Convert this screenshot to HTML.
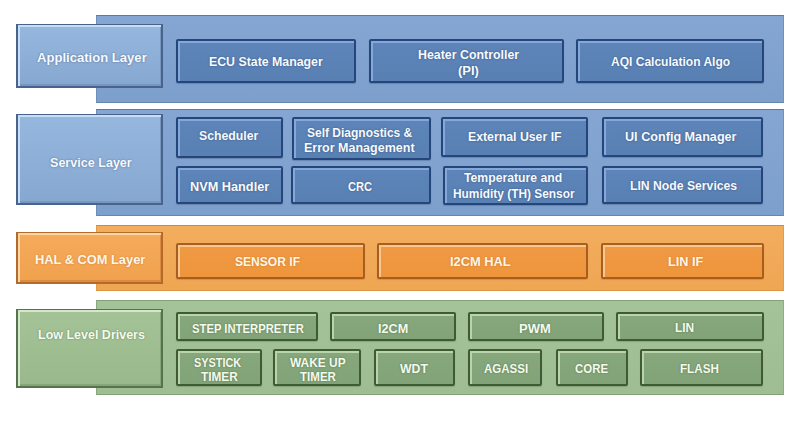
<!DOCTYPE html>
<html><head><meta charset="utf-8">
<style>
*{margin:0;padding:0;box-sizing:border-box}
html,body{width:800px;height:429px;background:#fff;overflow:hidden}
body{position:relative;font-family:"Liberation Sans",sans-serif}
div,span{position:absolute}
.t{white-space:nowrap;line-height:1;font-weight:bold;transform-origin:0 0;color:#fff}
.t.b,.t.lb{color:#f7faff;text-shadow:0 0 2px rgba(20,40,80,.5)}
.t.o,.t.lo{color:#fff6e8;text-shadow:0 0 2px rgba(130,60,0,.35)}
.t.g,.t.lg{color:#f4faee;text-shadow:0 0 2px rgba(30,60,20,.45)}
.bx{border-radius:2px;border-style:solid;border-width:2px}
.lab{border-style:solid;border-width:1px 2px 2px 2px}
.band{border-style:solid;border-width:1px}
/* blue */
.band.b{background:linear-gradient(#85a6d2,#7d9fcb);border-color:#5a79a4 #7091bd #6686b2 #6f8fba}
.lab.b{background:linear-gradient(#96b7de,#86a8d0);border-color:#48648c;box-shadow:inset 2px 2px 0 #c6def7,inset -1px -2px 0 #7796c0}
.bx.b{background:linear-gradient(#5e85b9,#5880b3);border-color:#24467a;box-shadow:inset 2px 2px 0 #86a8d8,0 1px 1px rgba(30,50,90,.25)}
/* orange */
.band.o{background:linear-gradient(#f2ad5d,#efa653);border-color:#cc8a40 #e39c4c #dd9647 #e09a4a}
.lab.o{background:linear-gradient(#f5ab5c,#f1a14d);border-color:#b26b2b;box-shadow:inset 2px 2px 0 #fcd6a8,inset -1px -2px 0 #dc8c40}
.bx.o{background:linear-gradient(#f09a44,#ee953c);border-color:#a85e1e;box-shadow:inset 2px 2px 0 #f9c68f,0 1px 1px rgba(120,60,0,.2)}
/* green */
.band.g{background:linear-gradient(#a5c399,#9ebd92);border-color:#84a278 #8fad83 #84a079 #8aa87e}
.lab.g{background:linear-gradient(#a4c397,#99b98c);border-color:#56734d;box-shadow:inset 2px 2px 0 #d3e8c9,inset -1px -2px 0 #86a67a}
.bx.g{background:linear-gradient(#87a87c,#82a377);border-color:#3e5b36;box-shadow:inset 2px 2px 0 #b9d4ad,0 1px 1px rgba(30,60,20,.2)}

</style></head><body>
<div class="band b" style="left:96px;top:15px;width:688px;height:87.5px"></div>
<div class="band b" style="left:96px;top:108.5px;width:688px;height:107px"></div>
<div class="band o" style="left:96px;top:224.5px;width:688px;height:66px"></div>
<div class="band g" style="left:96px;top:300px;width:687.5px;height:94.5px"></div>
<div class="lab b" style="left:16px;top:23.5px;width:147px;height:64px"></div>
<div class="lab b" style="left:16px;top:113.5px;width:147px;height:91.25px"></div>
<div class="lab o" style="left:16px;top:231.75px;width:147px;height:52px"></div>
<div class="lab g" style="left:16px;top:309px;width:147px;height:79px"></div>
<div class="bx b" style="left:176px;top:39px;width:180px;height:44px"></div>
<div class="bx b" style="left:368.5px;top:39px;width:195.5px;height:44px"></div>
<div class="bx b" style="left:576px;top:39px;width:188px;height:44px"></div>
<div class="bx b" style="left:176px;top:116.5px;width:106.5px;height:41.5px"></div>
<div class="bx b" style="left:292px;top:116.5px;width:138.5px;height:43.5px"></div>
<div class="bx b" style="left:441px;top:116.5px;width:146.5px;height:40px"></div>
<div class="bx b" style="left:601.5px;top:116.5px;width:161.5px;height:40px"></div>
<div class="bx b" style="left:176px;top:166px;width:106.5px;height:38px"></div>
<div class="bx b" style="left:291px;top:166px;width:139.5px;height:38px"></div>
<div class="bx b" style="left:442.8px;top:165.5px;width:145.2px;height:39px"></div>
<div class="bx b" style="left:601.5px;top:166px;width:161.5px;height:38px"></div>
<div class="bx o" style="left:176px;top:242.75px;width:189px;height:36px"></div>
<div class="bx o" style="left:377.25px;top:242.75px;width:210.75px;height:36px"></div>
<div class="bx o" style="left:601.25px;top:242.75px;width:163.15px;height:36px"></div>
<div class="bx g" style="left:176px;top:311.7px;width:142px;height:29.3px"></div>
<div class="bx g" style="left:329.6px;top:311.7px;width:126.1px;height:29.3px"></div>
<div class="bx g" style="left:468px;top:311.7px;width:136.3px;height:29.3px"></div>
<div class="bx g" style="left:616px;top:311.7px;width:147.6px;height:29.3px"></div>
<div class="bx g" style="left:176px;top:349.3px;width:85.8px;height:37.2px"></div>
<div class="bx g" style="left:272.8px;top:349.3px;width:88.5px;height:37.2px"></div>
<div class="bx g" style="left:374px;top:349.3px;width:81.3px;height:37.2px"></div>
<div class="bx g" style="left:467.8px;top:349.3px;width:74.7px;height:37.2px"></div>
<div class="bx g" style="left:556.3px;top:349.3px;width:71.7px;height:37.2px"></div>
<div class="bx g" style="left:639.5px;top:349.3px;width:123.7px;height:37.2px"></div>
<span class="t lb" style="left:37.05px;top:50.6px;font-size:13px;transform:scaleX(1.0060)">Application Layer</span>
<span class="t b" style="left:208.66px;top:56.22px;font-size:12.5px;transform:scaleX(0.9860)">ECU State Manager</span>
<span class="t b" style="left:417.66px;top:48.52px;font-size:12.5px;transform:scaleX(0.9906)">Heater Controller</span>
<span class="t b" style="left:457.78px;top:64.52px;font-size:12.5px;transform:scaleX(1.0368)">(PI)</span>
<span class="t b" style="left:610.66px;top:56.12px;font-size:12.5px;transform:scaleX(0.9618)">AQI Calculation Algo</span>
<span class="t lb" style="left:49.82px;top:155.9px;font-size:13px;transform:scaleX(0.9667)">Service Layer</span>
<span class="t b" style="left:199.25px;top:130.42px;font-size:12.5px;transform:scaleX(0.9800)">Scheduler</span>
<span class="t b" style="left:307.36px;top:126.52px;font-size:12.5px;transform:scaleX(0.9593)">Self Diagnostics &amp;</span>
<span class="t b" style="left:303.65px;top:142.32px;font-size:12.5px;transform:scaleX(1.0009)">Error Management</span>
<span class="t b" style="left:467.86px;top:130.72px;font-size:12.5px;transform:scaleX(0.9830)">External User IF</span>
<span class="t b" style="left:624.64px;top:130.52px;font-size:12.5px;transform:scaleX(1.0100)">UI Config Manager</span>
<span class="t b" style="left:189.54px;top:180.62px;font-size:12.5px;transform:scaleX(1.0182)">NVM Handler</span>
<span class="t b" style="left:347.56px;top:180.62px;font-size:12.5px;transform:scaleX(0.8876)">CRC</span>
<span class="t b" style="left:463.6px;top:171.92px;font-size:12.5px;transform:scaleX(0.9764)">Temperature and</span>
<span class="t b" style="left:452.89px;top:187.72px;font-size:12.5px;transform:scaleX(0.9512)">Humidity (TH) Sensor</span>
<span class="t b" style="left:629.67px;top:180.42px;font-size:12.5px;transform:scaleX(0.9760)">LIN Node Services</span>
<span class="t lo" style="left:34.66px;top:252.6px;font-size:13px;transform:scaleX(0.9869)">HAL &amp; COM Layer</span>
<span class="t o" style="left:235.36px;top:255.52px;font-size:12.5px;transform:scaleX(0.9648)">SENSOR IF</span>
<span class="t o" style="left:450.23px;top:255.52px;font-size:12.5px;transform:scaleX(1.0276)">I2CM HAL</span>
<span class="t o" style="left:667.84px;top:255.52px;font-size:12.5px;transform:scaleX(1.0119)">LIN IF</span>
<span class="t lg" style="left:38.18px;top:327.7px;font-size:13px;transform:scaleX(0.9609)">Low Level Drivers</span>
<span class="t g" style="left:192.33px;top:322.64px;font-size:12px;transform:scaleX(0.9387)">STEP INTERPRETER</span>
<span class="t g" style="left:377.71px;top:322.54px;font-size:12px;transform:scaleX(1.0532)">I2CM</span>
<span class="t g" style="left:519.19px;top:322.54px;font-size:12px;transform:scaleX(1.0811)">PWM</span>
<span class="t g" style="left:674.66px;top:321.84px;font-size:12px;transform:scaleX(0.9915)">LIN</span>
<span class="t g" style="left:193.85px;top:356.74px;font-size:12px;transform:scaleX(0.9073)">SYSTICK</span>
<span class="t g" style="left:200.9px;top:370.94px;font-size:12px;transform:scaleX(0.9838)">TIMER</span>
<span class="t g" style="left:290px;top:356.74px;font-size:12px;transform:scaleX(0.9937)">WAKE UP</span>
<span class="t g" style="left:299.5px;top:370.94px;font-size:12px;transform:scaleX(0.9622)">TIMER</span>
<span class="t g" style="left:400.4px;top:362.64px;font-size:12px;transform:scaleX(1.0202)">WDT</span>
<span class="t g" style="left:483.76px;top:362.64px;font-size:12px;transform:scaleX(0.9600)">AGASSI</span>
<span class="t g" style="left:575.42px;top:362.64px;font-size:12px;transform:scaleX(0.9541)">CORE</span>
<span class="t g" style="left:680.07px;top:362.64px;font-size:12px;transform:scaleX(0.9714)">FLASH</span>
</body></html>
